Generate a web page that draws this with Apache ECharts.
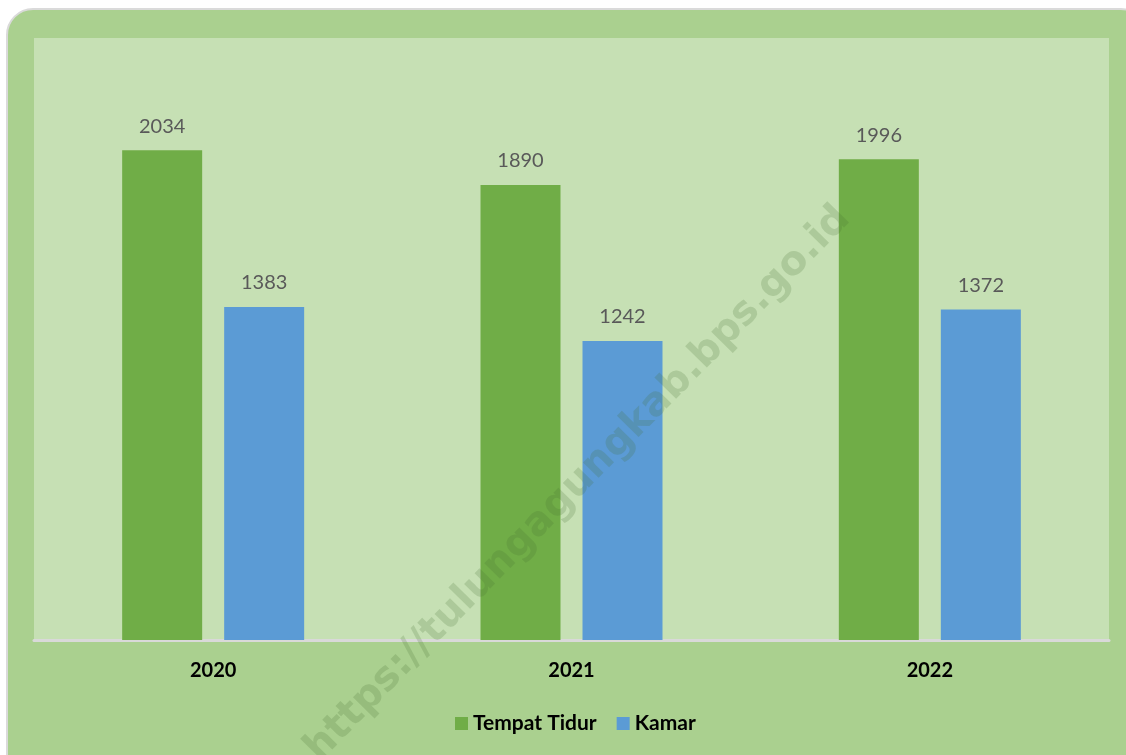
<!DOCTYPE html>
<html>
<head>
<meta charset="utf-8">
<script src="https://cdn.jsdelivr.net/npm/echarts@6/dist/echarts.min.js"></script>
<style>
  html, body { margin: 0; padding: 0; background: #ffffff; }
  #chart { width: 1126px; height: 755px; }
</style>
</head>
<body>
<div id="chart"></div>
<script>
// data
const years = ['2020', '2021', '2022'];
const tempatTidur = [2034, 1890, 1996];
const kamar = [1383, 1242, 1372];

const myChart = echarts.init(document.getElementById('chart'));
const option = {
  animation: false,
  backgroundColor: '#ffffff',
  textStyle: { fontFamily: 'Lato' },
  graphic: [
    // outer panel
    {
      type: 'rect',
      z: -10,
      shape: { x: 7, y: 9, width: 1140, height: 780, r: 26 },
      style: { fill: '#aad08f', stroke: '#dadada', lineWidth: 2 }
    },
    // watermark
    {
      type: 'text',
      z: 100,
      x: 578,
      y: 484,
      rotation: Math.PI / 4 + 0.01,
      style: {
        text: 'https://tulungagungkab.bps.go.id',
        fontFamily: 'DejaVu Sans',
        fontWeight: 'bold',
        fontSize: 40,
        fill: 'rgba(70,110,50,0.2)',
        align: 'center',
        verticalAlign: 'middle'
      }
    }
  ],
  grid: {
    left: 34,
    right: 17,
    top: 38,
    bottom: 115,
    show: true,
    backgroundColor: '#c6e0b4',
    borderWidth: 0,
    containLabel: false
  },
  legend: {
    data: ['Tempat Tidur', 'Kamar'],
    left: 450,
    bottom: 16,
    itemWidth: 13,
    itemHeight: 13,
    itemGap: 20,
    icon: 'rect',
    textStyle: { fontFamily: 'Lato', fontWeight: 'bold', fontSize: 21, color: '#000' }
  },
  xAxis: {
    type: 'category',
    data: years,
    axisLine: { lineStyle: { color: '#d9d9d9', width: 3 } },
    axisTick: { show: false },
    axisLabel: { margin: 21, fontFamily: 'Lato', fontWeight: 'bold', fontSize: 20, color: '#000' }
  },
  yAxis: {
    type: 'value',
    min: 0,
    max: 2500,
    show: false,
    splitLine: { show: false }
  },
  series: [
    {
      name: 'Tempat Tidur',
      type: 'bar',
      data: tempatTidur,
      barWidth: 80,
      barGap: '27.5%',
      itemStyle: { color: '#70ad47' },
      label: { show: true, position: 'top', distance: 14, fontSize: 20, color: '#595959', fontFamily: 'Lato' }
    },
    {
      name: 'Kamar',
      type: 'bar',
      data: kamar,
      barWidth: 80,
      itemStyle: { color: '#5b9bd5' },
      label: { show: true, position: 'top', distance: 14, fontSize: 20, color: '#595959', fontFamily: 'Lato' }
    }
  ]
};
myChart.setOption(option);
</script>
</body>
</html>
